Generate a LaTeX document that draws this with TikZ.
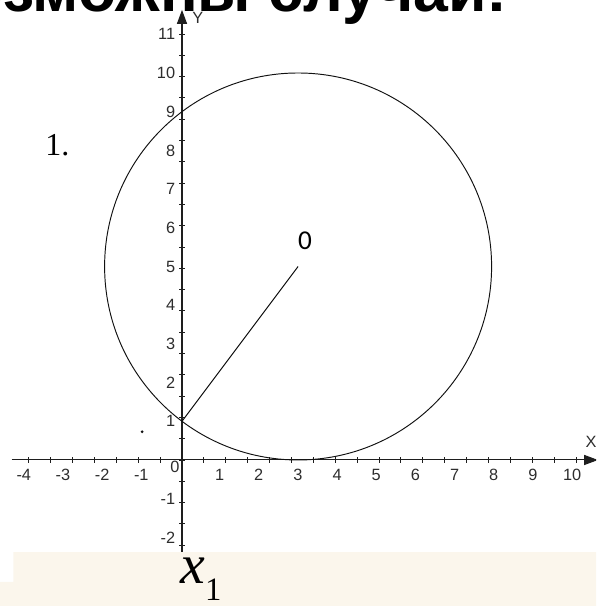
\documentclass[tikz,border=0pt]{standalone}
\usepackage{fontspec}
\setmainfont{Liberation Serif}
\newfontfamily\axisfont{Liberation Sans}
\newfontfamily\markfont{Carlito}
\usepackage{tikz}
\usetikzlibrary{arrows.meta,positioning,calc}
\definecolor{inkBlack}{RGB}{17, 17, 17}
\definecolor{inkAxis}{RGB}{30, 30, 30}
\definecolor{inkLabel}{RGB}{45, 45, 45}
\definecolor{inkBand}{RGB}{251, 246, 236}
\tikzset{
  axisline/.style={draw=inkAxis, line width=0.75pt, -{Triangle[length=3.6mm,width=2.6mm]}},
  tickmark/.style={draw=inkAxis, line width=0.6pt},
  ticklabel/.style={inner sep=0pt, text=inkLabel, font=\axisfont\fontsize{12pt}{14pt}\selectfont},
  curveline/.style={draw=inkBlack, line width=0.7pt}
}

\begin{document}
\begin{tikzpicture}
    \useasboundingbox (-4.703,-3.773) rectangle (10.698,11.886);
    \clip (-4.703,-3.773) rectangle (10.698,11.886);
    % heading, cut by the top edge
    \node[anchor=base east, inner sep=0pt] (caseTitle) at (8.42,11.58)
        {\axisfont\bfseries\fontsize{46pt}{50pt}\selectfont возможны случаи:};
    % axes
    \draw[axisline] (-4.4,0) -- (10.75,0);
    \draw[axisline] (0,-3) -- (0,11.63);
    \foreach \t in {-7,...,18} \draw[tickmark] (0.5655*\t,-0.07) -- (0.5655*\t,0.07);
    \foreach \t in {-4,...,20} \draw[tickmark] (-0.07,0.5504*\t) -- (0.07,0.5504*\t);
    \foreach \t in {-4,...,-1,1,2,...,10} \node[ticklabel] (xl\t) at (1.012*\t-0.04,-0.39) {\t};
    \foreach \t in {-2,-1,1,2,...,11} \node[ticklabel, anchor=east] (yl\t) at (-0.17,\t) {\t};
    \node[ticklabel] (origin) at (-0.18,-0.17) {0};
    \node[ticklabel] (axisX) at (10.57,0.47) {X};
    \node[ticklabel] (axisY) at (0.41,11.42) {Y};
    % circle and radius
    \coordinate (centre) at (3,5);
    \coordinate (cross) at (0,1);
    \draw[curveline] (centre) circle (5);
    \draw[curveline] (cross) -- (centre);
    \fill[inkBlack] (-1.03,0.73) circle (0.04);
    \node[inner sep=0pt] (centreMark) at (3.18,5.66) {\markfont\fontsize{20pt}{24pt}\selectfont 0};
    \node[anchor=base west, inner sep=0pt] (caseNo) at (-3.54,7.88) {\fontsize{23.5pt}{28pt}\selectfont 1.};
    % band at the foot
    \fill[inkBand] (-4.36,-2.38) -- (10.698,-2.38) -- (10.698,-3.773) -- (-4.703,-3.773)
        -- (-4.703,-3.15) -- (-4.36,-3.15) -- cycle;
    \node[anchor=base west, inner sep=0pt] (rootOne) at (-0.05,-3.18)
        {\fontsize{41pt}{46pt}\selectfont\itshape x\raisebox{-0.31em}{\upshape\fontsize{24pt}{28pt}\selectfont 1}};
\end{tikzpicture}
\end{document}
